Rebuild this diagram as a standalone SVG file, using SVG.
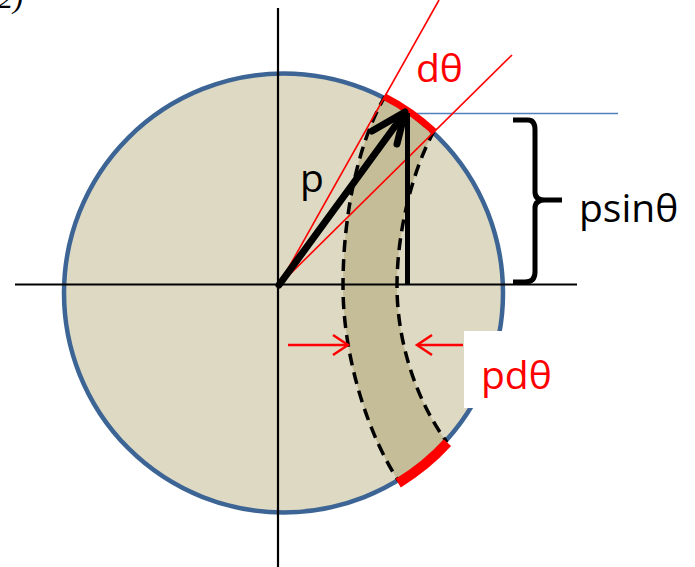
<svg xmlns="http://www.w3.org/2000/svg" width="695" height="567" viewBox="0 0 695 567">
<style>
.axis{stroke:#000;stroke-width:2.2;fill:none}
.red{stroke:#ff0000;fill:none}
.lbl{font-family:"Open Sans","Liberation Sans",sans-serif;font-size:39px}
.dash{stroke:#000;stroke-width:3.5;stroke-dasharray:12 7;fill:none}
</style>
<rect width="695" height="567" fill="#fff"/>
<g id="sphere">
<circle cx="283.5" cy="293" r="219.5" fill="#ddd9c3" stroke="#3c6494" stroke-width="4.5"/>
</g>
<g id="band">
<path d="M 384,98 A 219.5 219.5 0 0 1 433,133 C 413,170 397,230 397,286 C 397,340 415,398 446,441 A 219.5 219.5 0 0 1 398,480 C 370,438 343,360 343,286 C 343,210 360,140 384,98 Z" fill="#c4bd97"/>
<path class="dash" d="M 384,98 A 219.5 219.5 0 0 1 433,133 C 413,170 397,230 397,286 C 397,340 415,398 446,441 A 219.5 219.5 0 0 1 398,480 C 370,438 343,360 343,286 C 343,210 360,140 384,98 Z"/>
</g>
<g id="label-box">
<rect x="464" y="331" width="102" height="77" fill="#fff"/>
</g>
<g id="connectors">
<line class="axis" x1="278" y1="8" x2="278" y2="567"/>
<line class="axis" x1="15" y1="284.5" x2="577" y2="284.5"/>
<line x1="405" y1="113.5" x2="618" y2="113.5" stroke="#4f81bd" stroke-width="1.6"/>
<line class="red" stroke-width="1.6" x1="280" y1="283" x2="439" y2="0"/>
<line class="red" stroke-width="1.6" x1="280" y1="284" x2="512" y2="55"/>
<path class="red" stroke-width="7" d="M 384,96.5 A 221 221 0 0 1 434,131.5"/>
<path class="red" stroke-width="10" d="M 447.4,442.7 A 222 222 0 0 1 398.2,483.1"/>
<line x1="279" y1="285" x2="401" y2="118" stroke="#000" stroke-width="7" stroke-linecap="round"/>
<polyline points="372,131 405,112 397,144" fill="none" stroke="#000" stroke-width="7" stroke-linecap="round" stroke-linejoin="round"/>
<line x1="407.5" y1="113" x2="407.5" y2="285" stroke="#000" stroke-width="5"/>
<path d="M 513,120 L 528,120 Q 535,120 535,130 L 535,192 Q 535,200 545,200 L 562,200 M 545,200 Q 535,200 535,208 L 535,272 Q 535,282 525,282 L 513,282" fill="none" stroke="#000" stroke-width="5"/>
<line class="red" stroke-width="2.5" x1="288" y1="345" x2="347" y2="345"/>
<polyline class="red" stroke-width="2.5" points="333,335 348,345 333,355"/>
<line class="red" stroke-width="2.5" x1="463" y1="345" x2="418" y2="345"/>
<polyline class="red" stroke-width="2.5" points="432,335 417,345 432,355"/>
</g>
<g id="labels">
<text x="-2" y="8" font-family="Liberation Serif,serif" font-style="italic" font-size="30">2)</text>
<text class="lbl" x="300" y="192">p</text>
<text class="lbl" x="416" y="82" fill="#ff0000">dθ</text>
<text class="lbl" x="579" y="222">psinθ</text>
<text class="lbl" x="481" y="389" fill="#ff0000">pdθ</text>
</g>
</svg>
